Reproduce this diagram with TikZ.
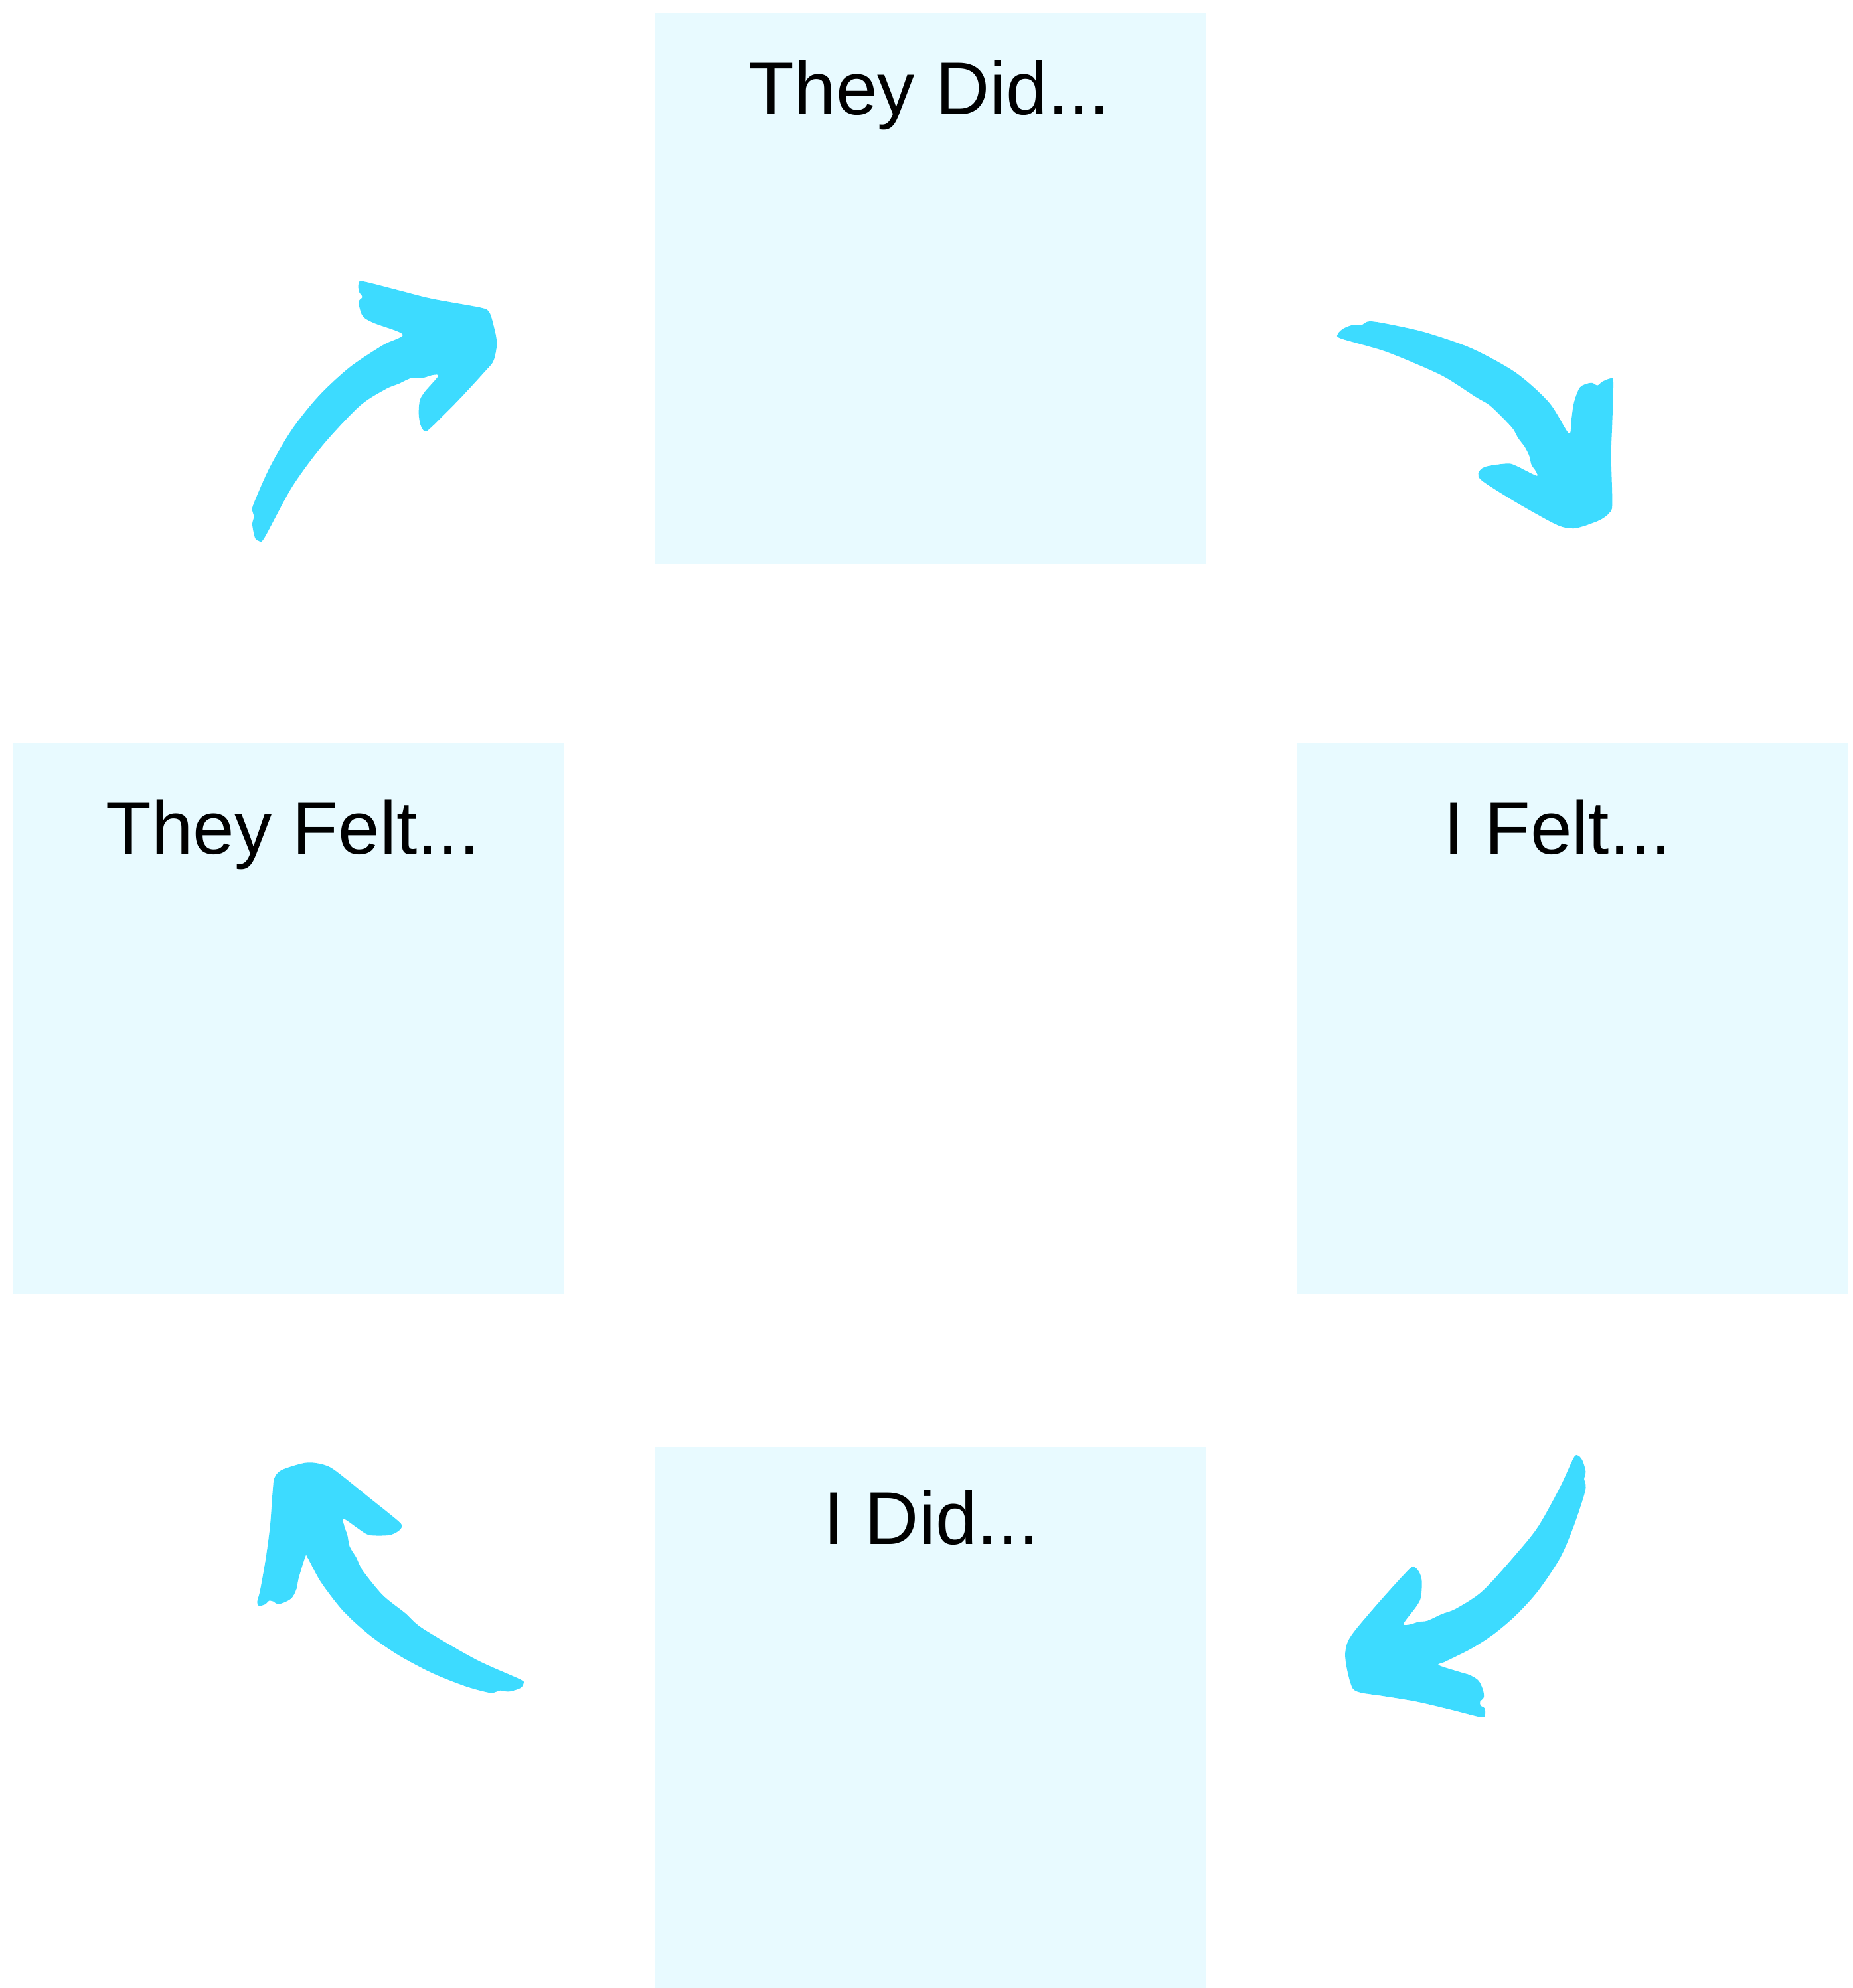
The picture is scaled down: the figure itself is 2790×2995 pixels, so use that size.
\documentclass[tikz,border=0pt]{standalone}
\usepackage{fontspec}
\setmainfont{Liberation Sans}
\definecolor{cardfill}{HTML}{E8FAFF}
\definecolor{brush}{HTML}{3DDBFF}
\tikzset{
  card/.style={fill=cardfill, minimum width=8.3cm, minimum height=8.3cm, inner sep=0pt, anchor=north west},
  title/.style={anchor=base, font=\fontsize{32}{38}\selectfont, inner sep=0pt},
  brushstroke/.style={fill=brush, draw=none}
}
\begin{document}
\begin{tikzpicture}[x={(0.01cm,0)}, y={(0,-0.01cm)}]
        \useasboundingbox (0,0) rectangle (2790,2995);
        % the four cards
        \node[card] (theydid) at (986,18) {};
        \node[card] (theyfelt) at (18,1118) {};
        \node[card] (ifelt) at (1953,1118) {};
        \node[card] (idid) at (986,2179) {};
        \node[title] (theydidtxt) at (1400,173) {They Did...};
        \node[title] (theyfelttxt) at (441,1286) {They Felt...};
        \node[title] (ifelttxt) at (2346,1286) {I Felt...};
        \node[title] (ididtxt) at (1403,2326) {I Did...};
        % brush arrows
        \begin{scope}[shift={(300,350)}, scale=1/3]
        \fill[brushstroke] plot[smooth cycle, tension=0.5] coordinates {(245,1230) (320,1060) (420,890) (540,740) (680,610) (830,510) (920,462) (790,410) (740,380) (722,330) (722,310) (737,292) (722,268) (720,235) (740,222) (900,262) (1050,300) (1270,340) (1310,360) (1330,420) (1345,500) (1330,580) (1290,630) (1170,760) (1050,880) (1020,900) (1000,870) (992,820) (997,760) (1020,720) (1080,650) (1055,645) (1010,658) (960,658) (900,685) (840,710) (725,785) (560,960) (420,1150) (295,1380) (270,1395) (252,1380) (240,1320) (248,1285) (242,1265)};
        \end{scope}
        \begin{scope}[shift={(1950,420)}, scale=1/3]
        \fill[brushstroke] plot[smooth cycle, tension=0.5] coordinates {(195,250) (220,225) (265,208) (300,210) (340,192) (450,210) (600,245) (800,315) (1000,425) (1150,560) (1238,698) (1250,640) (1262,560) (1290,490) (1340,470) (1368,482) (1390,465) (1430,450) (1440,470) (1435,650) (1430,800) (1435,1020) (1420,1060) (1380,1090) (1300,1120) (1250,1128) (1180,1110) (1000,1010) (850,915) (830,880) (860,850) (960,835) (1000,845) (1092,890) (1090,870) (1070,840) (1060,800) (1040,760) (1010,720) (980,670) (885,575) (820,535) (680,445) (550,385) (400,325) (210,270)};
        \end{scope}
        \begin{scope}[shift={(1950,2150)}, scale=1/3]
        \fill[brushstroke] plot[smooth cycle, tension=0.5] coordinates {(1280,128) (1260,140) (1200,270) (1100,450) (1000,575) (850,740) (730,820) (665,845) (600,875) (560,880) (520,892) (492,888) (550,810) (570,770) (575,700) (565,660) (545,635) (520,640) (400,770) (280,910) (240,970) (228,1030) (240,1110) (262,1180) (300,1200) (400,1215) (550,1240) (700,1275) (840,1310) (860,1300) (858,1270) (840,1258) (838,1240) (855,1220) (850,1185) (830,1145) (790,1120) (740,1105) (650,1075) (680,1060) (800,1000) (900,935) (1000,850) (1100,740) (1200,590) (1260,450) (1310,300) (1315,260) (1308,235) (1315,200) (1300,150)};
        \end{scope}
        \begin{scope}[shift={(350,2150)}, scale=1/3]
        \fill[brushstroke] plot[smooth cycle, tension=0.5] coordinates {(1315,1160) (1300,1140) (1100,1050) (860,910) (780,840) (680,760) (590,650) (560,590) (530,540) (520,490) (505,445) (505,415) (600,480) (640,490) (710,488) (750,470) (765,450) (750,425) (620,320) (470,200) (420,172) (360,160) (310,165) (220,195) (190,230) (183,280) (170,450) (150,600) (125,740) (112,790) (120,808) (150,800) (165,785) (185,788) (205,800) (240,790) (270,770) (290,730) (300,680) (330,585) (340,590) (400,700) (500,830) (620,940) (750,1030) (900,1110) (1050,1170) (1160,1200) (1195,1195) (1210,1190) (1250,1195) (1300,1180)};
        \end{scope}
\end{tikzpicture}
\end{document}
